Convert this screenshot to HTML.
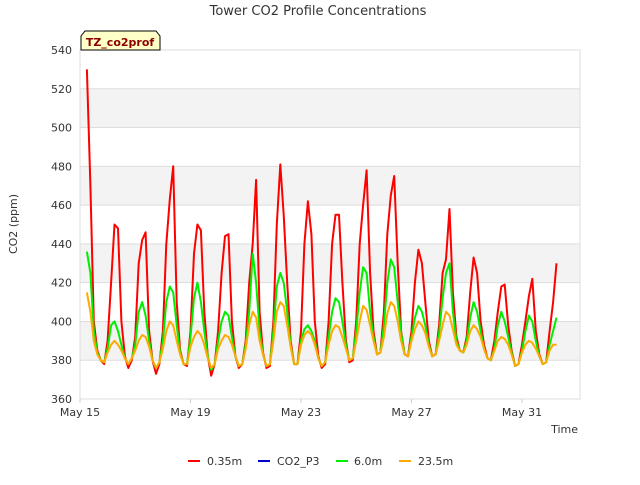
<!DOCTYPE html>
<html><head><meta charset="utf-8"><style>
body{margin:0;background:#fff;font-family:"Liberation Sans","DejaVu Sans",sans-serif}
</style></head><body>
<svg id="chart" width="640" height="480" xmlns="http://www.w3.org/2000/svg" font-family="DejaVu Sans, Liberation Sans, sans-serif">
<text x="318" y="15" text-anchor="middle" font-size="13" fill="#333">Tower CO2 Profile Concentrations</text>
<g id="bands"></g>
<g id="grid"></g>
<rect x="80" y="50" width="500" height="349" fill="none" stroke="#ddd"/>
<g id="yticks" font-size="11" fill="#333"></g>
<g id="xticks" font-size="11" fill="#333"></g>
<text transform="translate(17,224) rotate(-90)" text-anchor="middle" font-size="11" fill="#333">CO2 (ppm)</text>
<text x="578" y="433" text-anchor="end" font-size="11" fill="#333">Time</text>
<g id="series"></g>
<g>
<path d="M81,50 L81,36 L85,31 L156,31 L160,36 L160,50 Z" fill="#ffffc8" stroke="#000"/>
<text x="120" y="46" text-anchor="middle" font-size="11" font-weight="bold" fill="#8b0000">TZ_co2prof</text>
</g>
<g font-size="11" fill="#333">
<g><line x1="188" y1="461" x2="200" y2="461" stroke="#f00" stroke-width="2"/><text x="207" y="465">0.35m</text></g>
<g><line x1="258" y1="461" x2="270" y2="461" stroke="#00c" stroke-width="2"/><text x="277" y="465">CO2_P3</text></g>
<g><line x1="336" y1="461" x2="348" y2="461" stroke="#0e0" stroke-width="2"/><text x="354" y="465">6.0m</text></g>
<g><line x1="399" y1="461" x2="411" y2="461" stroke="#fa0" stroke-width="2"/><text x="418" y="465">23.5m</text></g>
</g>
</svg>
<script>
const yTicks=[360,380,400,420,440,460,480,500,520,540];
const xTickDays=[0,4,8,12,16];
const xTickLabels=["May 15","May 19","May 23","May 27","May 31"];
const startDay=0.25, stepDay=0.125;
const red=[530,470,400,385,380,378,
390,420,450,448,400,382,376,380,
392,430,442,446,395,380,373,378,
395,440,463,480,410,385,378,377,
395,435,450,447,405,382,372,378,
395,425,444,445,400,382,376,378,
390,420,440,473,405,384,376,377,
400,450,481,455,420,390,378,378,
395,440,462,445,400,382,376,378,
400,440,455,455,420,390,379,380,
400,440,460,478,425,395,383,384,
405,445,465,475,430,395,383,382,
395,420,437,430,410,390,382,383,
398,425,432,458,415,392,385,384,
392,415,433,425,400,388,381,380,
390,405,418,419,398,385,377,378,
388,400,413,422,395,383,378,379,
395,410,430];
const p3=[];
const green=[436,425,395,384,380,379,
386,398,400,395,388,381,378,381,
388,405,410,403,390,380,376,379,
390,410,418,415,398,384,378,378,
392,412,420,410,395,382,375,378,
390,400,405,403,392,382,377,378,
388,405,435,420,395,383,377,378,
395,418,425,420,405,388,378,378,
390,396,398,395,390,381,377,379,
392,405,412,410,400,388,380,381,
395,415,428,425,405,392,383,384,
398,420,432,428,410,394,383,382,
392,402,408,405,398,388,382,383,
394,412,425,430,405,390,385,384,
390,402,410,405,395,386,381,380,
386,398,405,400,392,384,377,378,
385,395,403,400,390,382,378,379,
388,395,402];
const orange=[415,405,390,383,380,379,
384,388,390,388,385,381,378,381,
385,390,393,392,387,380,376,379,
386,395,400,398,390,383,378,378,
387,392,395,393,388,381,376,378,
386,390,393,392,388,382,377,378,
386,398,405,402,390,383,377,378,
390,405,410,408,398,387,378,378,
388,393,395,393,388,381,377,379,
388,395,398,397,392,386,380,381,
390,400,408,406,398,390,383,384,
392,404,410,408,400,390,383,382,
390,396,400,398,394,387,382,383,
390,398,405,403,396,388,385,384,
388,395,398,396,392,386,381,380,
385,390,392,391,388,383,377,378,
384,388,390,389,386,382,378,379,
385,388,388];
const X0=80,X1=580,Y0=399,Y1=50,DMAX=18.1;
const xs=d=>X0+(X1-X0)*d/DMAX;
const ys=v=>Y0-(Y0-Y1)*(v-360)/180;
const NS="http://www.w3.org/2000/svg";
function mk(t,p,parent){const e=document.createElementNS(NS,t);for(const k in p)e.setAttribute(k,p[k]);parent.appendChild(e);return e;}
const bands=document.getElementById('bands'),grid=document.getElementById('grid');
for(let i=0;i<yTicks.length-1;i++){
  if(i%2===1){const r=mk('rect',{x:X0,y:ys(yTicks[i+1]),width:X1-X0,height:ys(yTicks[i])-ys(yTicks[i+1]),fill:'#f3f3f3'},bands);
  
  }
}
const yt=document.getElementById('yticks');
yTicks.forEach(v=>{
  const l=mk('line',{x1:X0,x2:X1,y1:ys(v),y2:ys(v),stroke:'#ddd'},grid);
  
  
  const t=mk('text',{x:72,y:ys(v)+4,'text-anchor':'end'},yt);t.textContent=v;
  
  
});
const xt=document.getElementById('xticks');
xTickDays.forEach((d,i)=>{
  mk('line',{x1:xs(d),x2:xs(d),y1:Y0,y2:Y0+4,stroke:'#ccc'},xt);
  const t=mk('text',{x:xs(d),y:416,'text-anchor':'middle'},xt);t.textContent=xTickLabels[i];
  
  
});
const sg=document.getElementById('series');
[[red,'#f00','series-035m'],[p3,'#00c','series-co2-p3'],[green,'#0e0','series-6m'],[orange,'#fa0','series-235m']].forEach(([arr,c,n])=>{
  if(!arr.length)return;
  const pts=arr.map((v,i)=>xs(startDay+i*stepDay).toFixed(1)+','+ys(v).toFixed(1)).join(' ');
  const p=mk('polyline',{points:pts,fill:'none',stroke:c,'stroke-width':2,'stroke-linejoin':'round'},sg);
  
  
});
</script>
</body></html>
